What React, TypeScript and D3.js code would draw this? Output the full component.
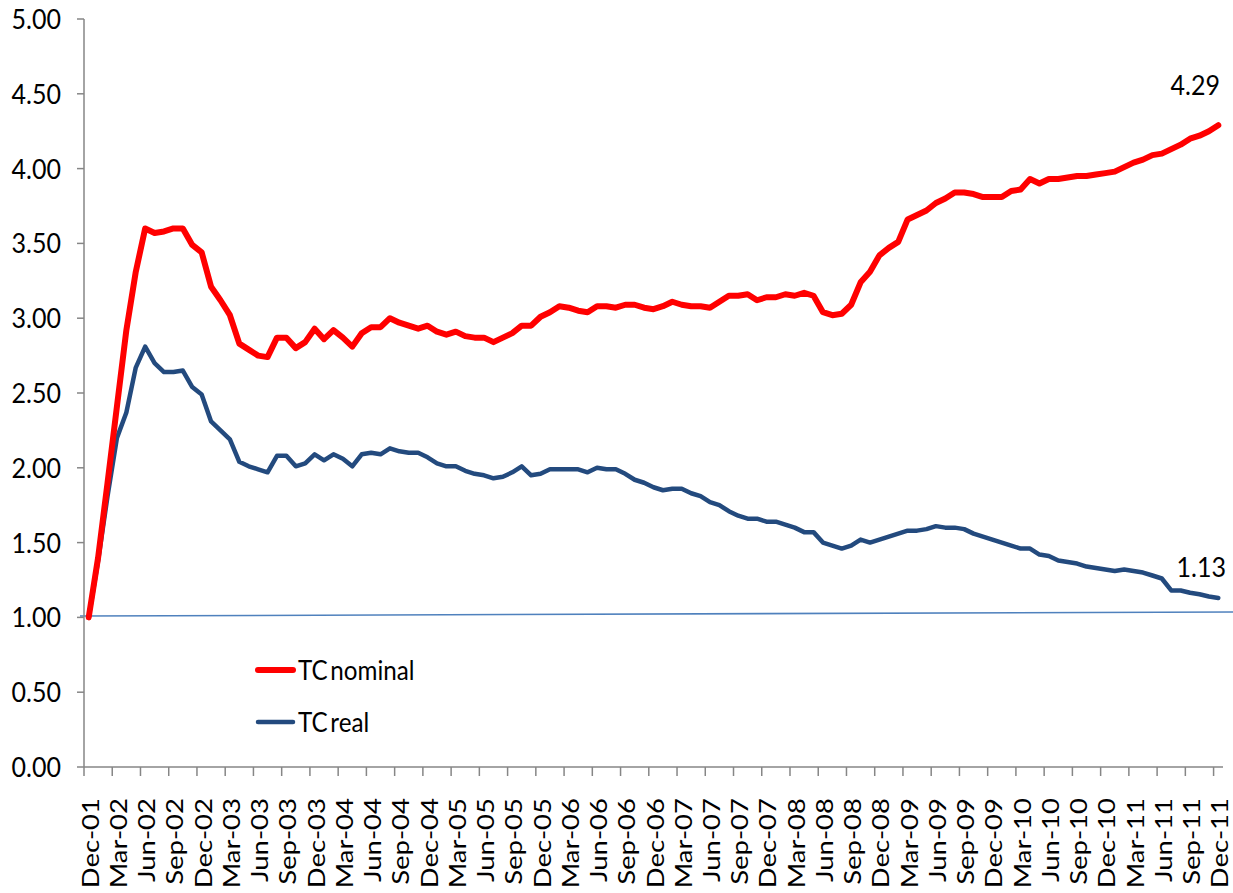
import React from "react";
import * as d3 from "d3";

const tickLabels = [
  "Dec-01","Mar-02","Jun-02","Sep-02","Dec-02","Mar-03","Jun-03","Sep-03","Dec-03",
  "Mar-04","Jun-04","Sep-04","Dec-04","Mar-05","Jun-05","Sep-05","Dec-05",
  "Mar-06","Jun-06","Sep-06","Dec-06","Mar-07","Jun-07","Sep-07","Dec-07",
  "Mar-08","Jun-08","Sep-08","Dec-08","Mar-09","Jun-09","Sep-09","Dec-09",
  "Mar-10","Jun-10","Sep-10","Dec-10","Mar-11","Jun-11","Sep-11","Dec-11",
];

const nominal = [
  1.00, 1.40, 1.90, 2.41, 2.92, 3.31, 3.60, 3.57, 3.58, 3.60,
  3.60, 3.49, 3.44, 3.21, 3.12, 3.02, 2.83, 2.79, 2.75, 2.74,
  2.87, 2.87, 2.80, 2.84, 2.93, 2.86, 2.92, 2.87, 2.81, 2.90,
  2.94, 2.94, 3.00, 2.97, 2.95, 2.93, 2.95, 2.91, 2.89, 2.91,
  2.88, 2.87, 2.87, 2.84, 2.87, 2.90, 2.95, 2.95, 3.01, 3.04,
  3.08, 3.07, 3.05, 3.04, 3.08, 3.08, 3.07, 3.09, 3.09, 3.07,
  3.06, 3.08, 3.11, 3.09, 3.08, 3.08, 3.07, 3.11, 3.15, 3.15,
  3.16, 3.12, 3.14, 3.14, 3.16, 3.15, 3.17, 3.15, 3.04, 3.02,
  3.03, 3.09, 3.24, 3.31, 3.42, 3.47, 3.51, 3.66, 3.69, 3.72,
  3.77, 3.80, 3.84, 3.84, 3.83, 3.81, 3.81, 3.81, 3.85, 3.86,
  3.93, 3.90, 3.93, 3.93, 3.94, 3.95, 3.95, 3.96, 3.97, 3.98,
  4.01, 4.04, 4.06, 4.09, 4.10, 4.13, 4.16, 4.20, 4.22, 4.25,
  4.29,
];

const real = [
  1.00, 1.38, 1.81, 2.20, 2.37, 2.67, 2.81, 2.70, 2.64, 2.64,
  2.65, 2.54, 2.49, 2.31, 2.25, 2.19, 2.04, 2.01, 1.99, 1.97,
  2.08, 2.08, 2.01, 2.03, 2.09, 2.05, 2.09, 2.06, 2.01, 2.09,
  2.10, 2.09, 2.13, 2.11, 2.10, 2.10, 2.07, 2.03, 2.01, 2.01,
  1.98, 1.96, 1.95, 1.93, 1.94, 1.97, 2.01, 1.95, 1.96, 1.99,
  1.99, 1.99, 1.99, 1.97, 2.00, 1.99, 1.99, 1.96, 1.92, 1.90,
  1.87, 1.85, 1.86, 1.86, 1.83, 1.81, 1.77, 1.75, 1.71, 1.68,
  1.66, 1.66, 1.64, 1.64, 1.62, 1.60, 1.57, 1.57, 1.50, 1.48,
  1.46, 1.48, 1.52, 1.50, 1.52, 1.54, 1.56, 1.58, 1.58, 1.59,
  1.61, 1.60, 1.60, 1.59, 1.56, 1.54, 1.52, 1.50, 1.48, 1.46,
  1.46, 1.42, 1.41, 1.38, 1.37, 1.36, 1.34, 1.33, 1.32, 1.31,
  1.32, 1.31, 1.30, 1.28, 1.26, 1.18, 1.18, 1.165, 1.155, 1.14,
  1.13,
];

const yTicks = [0, 0.5, 1, 1.5, 2, 2.5, 3, 3.5, 4, 4.5, 5];
const refLineValues = [1.009, 1.036];
const seriesNames = ["TC nominal", "TC real"];
const endLabels = ["4.29", "1.13"];

const W = 1233;
const H = 893;
const FONT = "Lato, 'Open Sans', sans-serif";
const SQ = 0.91;
const SQR = 0.86;

export default function App() {
  const left = 84;
  const right = 1223;
  const top = 19;
  const bottom = 767;
  const idx = d3.range(nominal.length);
  const x = d3.scaleBand<number>().domain(idx).range([left, right]).padding(0);
  const bw = x.bandwidth();
  const cx = (i: number) => (x(i) as number) + bw / 2;
  const y = d3.scaleLinear().domain([0, 5]).range([bottom, top]);

  const line = d3
    .line<number>()
    .x((_, i) => cx(i))
    .y((d) => y(d));

  const tickIdx = idx.filter((i) => i % 3 === 0);
  const axisColor = "#868686";
  const red = "#FF0000";
  const blue = "#234A7E";

  return (
    <svg
      width={W}
      height={H}
      style={{ position: "absolute", left: 0, top: 0, background: "#fff" }}
      fontFamily={FONT}
    >
      {/* reference line */}
      <line
        x1={left - 4}
        x2={W}
        y1={y(refLineValues[0])}
        y2={y(refLineValues[1])}
        stroke="#4F81BD"
        strokeWidth={1.6}
      />
      {/* y axis */}
      <line x1={left} x2={left} y1={top} y2={bottom} stroke={axisColor} strokeWidth={1.5} />
      {yTicks.map((t) => (
        <g key={t}>
          <line x1={left - 7} x2={left} y1={y(t)} y2={y(t)} stroke={axisColor} strokeWidth={1.5} />
          <text
            transform={`translate(${61},${y(t)}) scale(${SQ},1)`}
            textAnchor="end"
            dy="0.36em"
            fontSize={27.5}
            fill="#000"
          >
            {t.toFixed(2)}
          </text>
        </g>
      ))}
      {/* x axis */}
      <line x1={left} x2={right} y1={bottom} y2={bottom} stroke={axisColor} strokeWidth={1.5} />
      {tickIdx.map((i) => (
        <line
          key={i}
          x1={x(i) as number}
          x2={x(i) as number}
          y1={bottom}
          y2={bottom + 9}
          stroke={axisColor}
          strokeWidth={1.5}
        />
      ))}
      {tickIdx.map((i, k) => (
        <text
          key={"l" + i}
          transform={`translate(${cx(i) + 1.5},${798}) rotate(-90) scale(1,${SQR})`}
          textAnchor="end"
          dy="0.36em"
          fontSize={27.5}
          fill="#000"
        >
          {tickLabels[k]}
        </text>
      ))}
      {/* series */}
      <path
        d={line(real) || ""}
        fill="none"
        stroke={blue}
        strokeWidth={4.5}
        strokeLinejoin="round"
        strokeLinecap="round"
      />
      <path
        d={line(nominal) || ""}
        fill="none"
        stroke={red}
        strokeWidth={6}
        strokeLinejoin="round"
        strokeLinecap="round"
      />
      {/* end labels */}
      <text
        transform={`translate(${1220},${95}) scale(${SQ},1)`}
        textAnchor="end"
        fontSize={27.5}
        fill="#000"
      >
        {endLabels[0]}
      </text>
      <text
        transform={`translate(${1226},${577}) scale(${SQ},1)`}
        textAnchor="end"
        fontSize={27.5}
        fill="#000"
      >
        {endLabels[1]}
      </text>
      {/* legend */}
      <line x1={258} x2={293} y1={670} y2={670} stroke={red} strokeWidth={6} strokeLinecap="round" />
      <text transform={`translate(${298},${680}) scale(${SQ - 0.03},1)`} fontSize={27.5} fill="#000" wordSpacing={-4}>
        {seriesNames[0]}
      </text>
      <line x1={258} x2={293} y1={722} y2={722} stroke={blue} strokeWidth={4.5} strokeLinecap="round" />
      <text transform={`translate(${298},${732}) scale(${SQ - 0.03},1)`} fontSize={27.5} fill="#000" wordSpacing={-4}>
        {seriesNames[1]}
      </text>
    </svg>
  );
}
